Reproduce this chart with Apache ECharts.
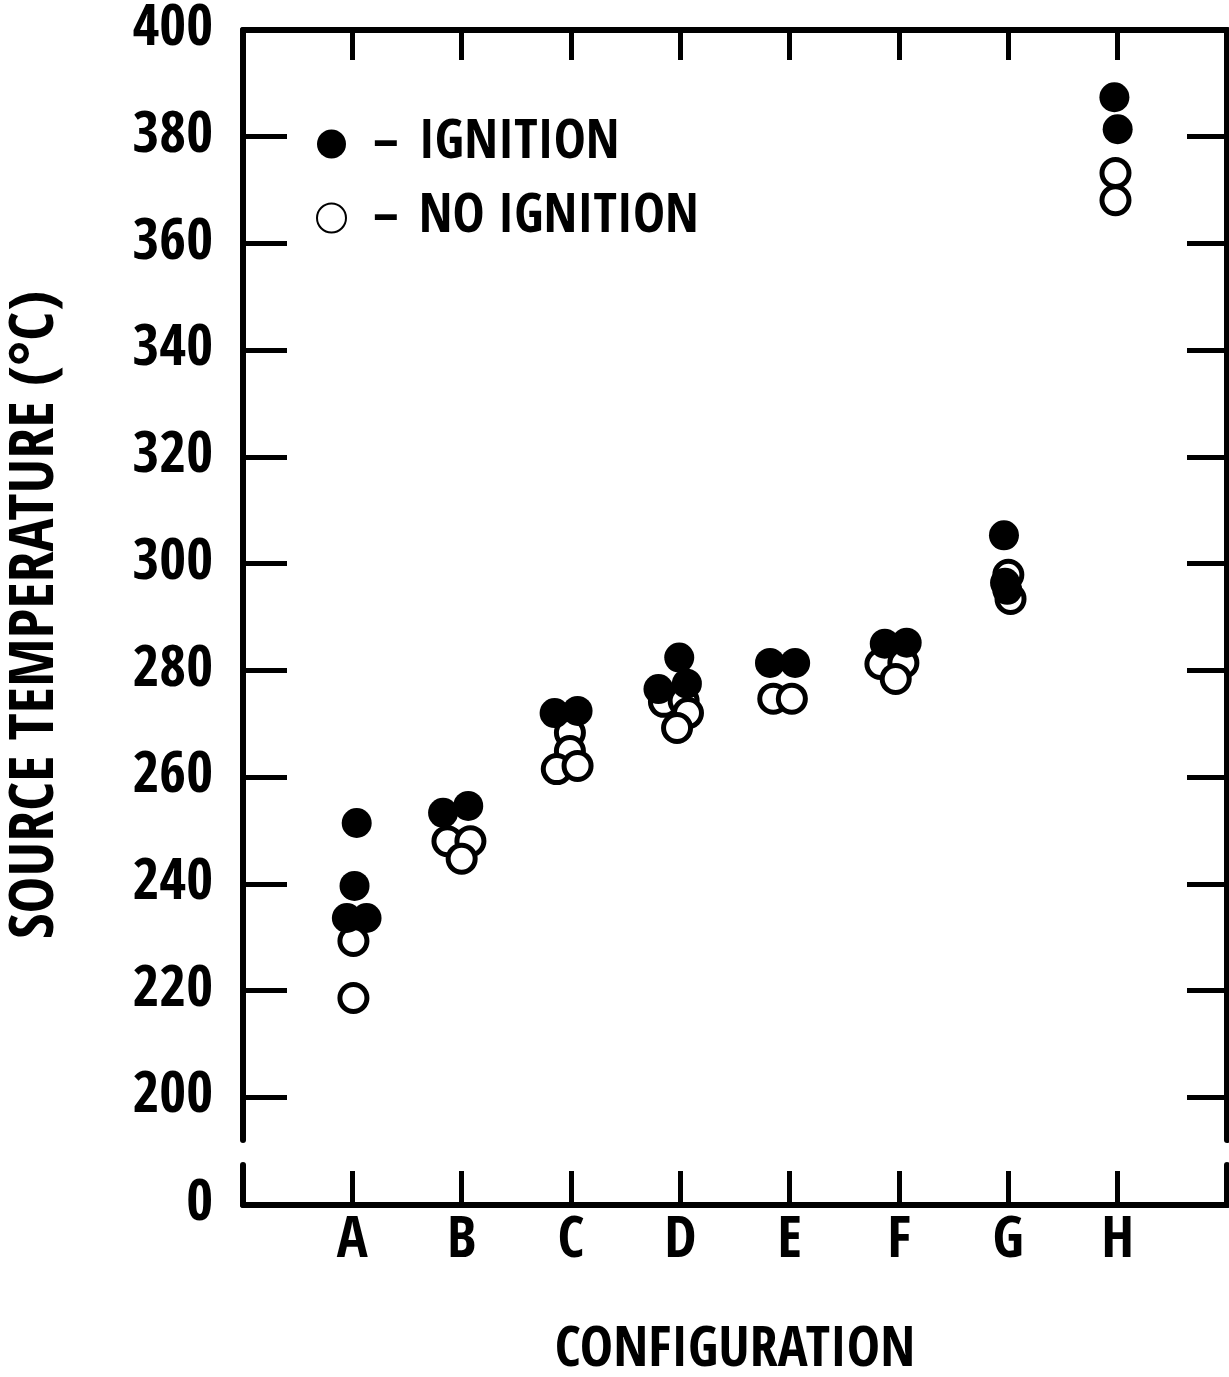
<!DOCTYPE html>
<html>
<head>
<meta charset="utf-8">
<script src="https://cdn.jsdelivr.net/npm/echarts@6/dist/echarts.min.js"></script>
<style>
html,body{margin:0;padding:0;background:#fff;}
#chart{width:1229px;height:1377px;}
</style>
</head>
<body>
<div id="chart"></div>
<script>
// ---- data ----
const categories = ['A','B','C','D','E','F','G','H'];
const categoryPositions = [1,2,3,4,5,6,7,8];
const yTickValues = [200,220,240,260,280,300,320,340,360,380,400];
const lowerTickValues = [0];

// Ignition (filled) points: x in configuration units (A=1 ... H=8), y in °C
const ignitionX = [1.04,1.02,0.95,1.13, 1.83,2.06, 2.85,3.06, 3.99,3.80,4.06, 4.82,5.05, 5.87,6.07, 6.96,6.97,6.99, 7.97,8.00];
const ignitionY = [251.4,239.6,233.6,233.6, 253.3,254.6, 272.0,272.4, 282.4,276.5,277.5, 281.4,281.4, 285.0,285.2, 305.3,296.4,295.1, 387.4,381.4];

// No ignition (open) points
const noIgnitionX = [1.01,1.01, 1.87,2.08,2.00, 2.99,2.99,2.87,3.06, 3.85,4.03,4.07,3.97, 4.85,5.02, 5.83,6.04,5.97, 7.00,7.02, 7.98,7.98];
const noIgnitionY = [229.3,218.6, 248.0,248.0,244.7, 268.3,264.9,261.5,262.1, 274.1,274.3,272.0,269.2, 274.7,274.7, 281.2,281.4,278.4, 297.9,293.4, 373.2,368.1];

const seriesNames = ['IGNITION','NO IGNITION'];
const yTitle = 'SOURCE TEMPERATURE (°C)';
const xTitle = 'CONFIGURATION';

// ---- chart ----
const FONT = "'Open Sans Condensed','Roboto Condensed','DejaVu Sans',sans-serif";
const LW = 6;
const zip = (xs, ys) => xs.map((x,i) => [x, ys[i]]);

const chart = echarts.init(document.getElementById('chart'), null, {renderer:'canvas'});

const txt = {fontFamily: FONT, fontWeight: 'bold', color: '#000', fontSize: 58};

const option = {
  animation: false,
  backgroundColor: '#fff',
  grid: [
    {left: 243, right: 2, top: 30, height: 1110, outerBoundsMode: 'none', containLabel: false},
    {left: 243, right: 2, top: 1165, height: 40, outerBoundsMode: 'none', containLabel: false}
  ],
  xAxis: [
    {
      gridIndex: 0, type: 'value', position: 'top', min: 0, max: 9,
      axisLine: {show: true, lineStyle: {color:'#000', width: LW}},
      axisTick: {show: true, inside: true, length: 30, customValues: categoryPositions, lineStyle:{color:'#000', width: 5}},
      axisLabel: {show: false},
      splitLine: {show: false}
    },
    {
      gridIndex: 1, type: 'value', position: 'bottom', min: 0, max: 9,
      axisLine: {show: true, onZero: false, lineStyle: {color:'#000', width: LW}},
      axisTick: {show: true, inside: true, length: 34, customValues: categoryPositions, lineStyle:{color:'#000', width: 5}},
      axisLabel: Object.assign({show: true, margin: 8, customValues: categoryPositions,
        formatter: v => categories[categoryPositions.indexOf(v)] || ''}, txt),
      splitLine: {show: false},
      name: xTitle, nameLocation: 'middle', nameGap: 118,
      nameTextStyle: Object.assign({}, txt, {fontSize: 56})
    }
  ],
  yAxis: [
    {
      gridIndex: 0, type: 'value', position: 'left', min: 192, max: 400,
      axisLine: {show: true, lineStyle: {color:'#000', width: LW}},
      axisTick: {show: true, inside: true, length: 44, customValues: yTickValues, lineStyle:{color:'#000', width: 5}},
      axisLabel: Object.assign({show: true, margin: 30, customValues: yTickValues}, txt),
      splitLine: {show: false}
    },
    {
      gridIndex: 0, type: 'value', position: 'right', min: 192, max: 400,
      axisLine: {show: true, lineStyle: {color:'#000', width: LW}},
      axisTick: {show: true, inside: true, length: 40, customValues: yTickValues, lineStyle:{color:'#000', width: 5}},
      axisLabel: {show: false},
      splitLine: {show: false}
    },
    {
      gridIndex: 1, type: 'value', position: 'left', min: 0, max: 1,
      axisLine: {show: true, onZero: false, lineStyle: {color:'#000', width: LW}},
      axisTick: {show: false},
      axisLabel: Object.assign({show: true, margin: 30, customValues: lowerTickValues}, txt),
      splitLine: {show: false}
    },
    {
      gridIndex: 1, type: 'value', position: 'right', min: 0, max: 1,
      axisLine: {show: true, onZero: false, lineStyle: {color:'#000', width: LW}},
      axisTick: {show: false},
      axisLabel: {show: false},
      splitLine: {show: false}
    }
  ],
  legend: {
    data: seriesNames,
    orient: 'vertical',
    left: 311, top: 112,
    itemWidth: 29, itemHeight: 29,
    itemGap: 20,
    selectedMode: false,
    formatter: name => '{d|–}{n|' + name + '}',
    textStyle: {
      fontFamily: FONT, fontWeight: 'bold', color: '#000', fontSize: 54,
      rich: {
        d: {fontFamily: FONT, fontWeight: 'bold', fontSize: 54, color:'#000', padding: [0, 20, 0, 22]},
        n: {fontFamily: FONT, fontWeight: 'bold', fontSize: 54, color:'#000'}
      }
    }
  },
  graphic: [
    {
      type: 'text', x: 37, y: 615, rotation: Math.PI/2,
      style: {text: yTitle, fill:'#000', font: "bold 62px " + FONT, align: 'center', verticalAlign: 'middle'}
    }
  ],
  series: [
    {
      name: seriesNames[1], type: 'scatter', xAxisIndex: 0, yAxisIndex: 0,
      symbol: 'circle', symbolSize: 27, z: 2,
      itemStyle: {color: '#fff', borderColor: '#000', borderWidth: 5, opacity: 1},
      emphasis: {disabled: true},
      data: zip(noIgnitionX, noIgnitionY)
    },
    {
      name: seriesNames[0], type: 'scatter', xAxisIndex: 0, yAxisIndex: 0,
      symbol: 'circle', symbolSize: 30, z: 3,
      itemStyle: {color: '#000', opacity: 1},
      emphasis: {disabled: true},
      data: zip(ignitionX, ignitionY)
    }
  ]
};
chart.setOption(option);
</script>
</body>
</html>
